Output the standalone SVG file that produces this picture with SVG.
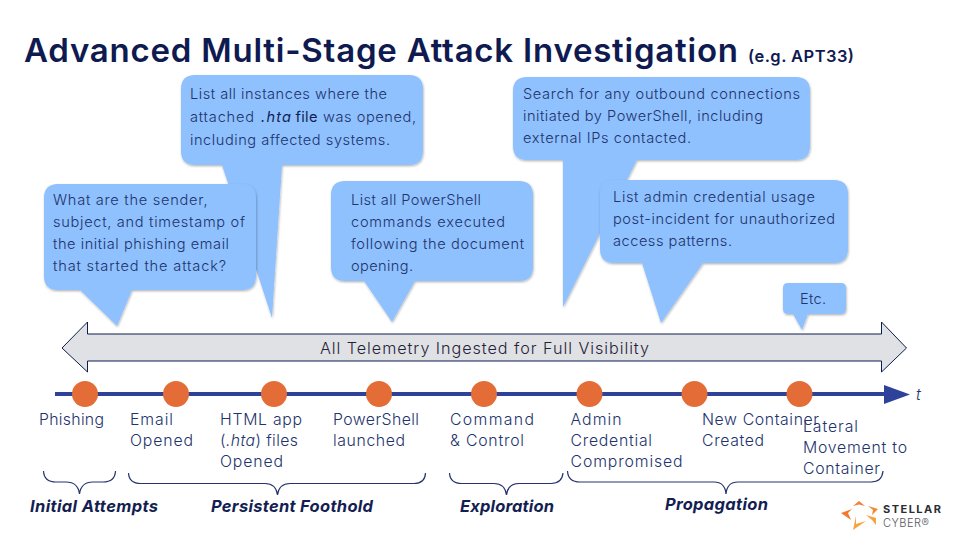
<svg xmlns="http://www.w3.org/2000/svg" width="960" height="540" viewBox="0 0 960 540">
<style>
text{font-family:"Inter","Lato",sans-serif;white-space:pre}
.b{fill:#8ec1fe;filter:url(#sh)}
.q{font-size:14.600px;font-weight:300;fill:#22336c}
.l{font-size:15.800px;font-weight:300;fill:#22336c}
.g{font-size:16.500px;font-weight:700;font-style:italic;fill:#141e52}
.br{fill:none;stroke:#26336e;stroke-width:1.2}
.c{fill:#e36c37}
.it{font-style:italic;font-weight:400;fill:#141e52}
</style>
<defs>
<filter id="sh" x="-10%" y="-10%" width="120%" height="125%"><feDropShadow dx="0.6" dy="1.2" stdDeviation="1.1" flood-color="#000" flood-opacity="0.3"/></filter>
</defs>
<rect width="960" height="540" fill="#fff"/>
<g id="title">
<text x="24" y="62" font-size="33" font-weight="600" fill="#0f1a50" textLength="714">Advanced Multi-Stage Attack Investigation</text>
<text x="748" y="62" font-size="16.500" font-weight="600" fill="#0f1a50" textLength="106">(e.g. APT33)</text>
</g>
<g id="bubble-hta">
<path class="b" d="M195,75H409Q423,75 423,89V151Q423,165 409,165H282L272,318L222,165H195Q181,165 181,151V89Q181,75 195,75Z"/>
<text class="q" x="190" y="99" textLength="197">List all instances where the</text>
<text class="q" x="190" y="122" textLength="64">attached</text>
<text class="q it" x="261" y="122" textLength="30">.hta</text>
<text class="q" x="295.500" y="122" textLength="22" style="font-weight:400;fill:#141e52">file</text>
<text class="q" x="323" y="122" textLength="93">was opened,</text>
<text class="q" x="190" y="145" textLength="200">including affected systems.</text>
</g>
<g id="bubble-phishing">
<path class="b" d="M58,184H242Q256,184 256,198V276Q256,290 242,290H132L117,326L80,290H58Q44,290 44,276V198Q44,184 58,184Z"/>
<text class="q" x="53" y="205" textLength="154.500">What are the sender,</text>
<text class="q" x="53" y="227" textLength="192">subject, and timestamp of</text>
<text class="q" x="53" y="249" textLength="176">the initial phishing email</text>
<text class="q" x="53" y="271" textLength="173">that started the attack?</text>
</g>
<g id="bubble-powershell">
<path class="b" d="M345,181H519Q533,181 533,195V267Q533,281 519,281H415L392,322L364,281H345Q331,281 331,267V195Q331,181 345,181Z"/>
<text class="q" x="351" y="205" textLength="130">List all PowerShell</text>
<text class="q" x="351" y="227" textLength="154">commands executed</text>
<text class="q" x="351" y="249" textLength="173">following the document</text>
<text class="q" x="351" y="271" textLength="62">opening.</text>
</g>
<g id="bubble-outbound">
<path class="b" d="M527,77H796Q810,77 810,91V146Q810,160 796,160H637L563,307V160H527Q513,160 513,146V91Q513,77 527,77Z"/>
<text class="q" x="523" y="99" textLength="277">Search for any outbound connections</text>
<text class="q" x="523" y="121" textLength="240">initiated by PowerShell, including</text>
<text class="q" x="523" y="143" textLength="168">external IPs contacted.</text>
</g>
<g id="bubble-admin">
<path class="b" d="M614,180H834Q848,180 848,194V249Q848,263 834,263H703L661,323L642,263H614Q600,263 600,249V194Q600,180 614,180Z"/>
<text class="q" x="613" y="202" textLength="202">List admin credential usage</text>
<text class="q" x="613" y="224" textLength="222">post-incident for unauthorized</text>
<text class="q" x="613" y="246" textLength="119">access patterns.</text>
</g>
<g id="bubble-etc">
<path class="b" d="M788,283H841Q846,283 846,288V309Q846,314 841,314H808L802,330L793,314H788Q783,314 783,309V288Q783,283 788,283Z"/>
<text class="q" x="800" y="304" textLength="26">Etc.</text>
</g>
<g id="telemetry">
<path d="M62,348L87.500,322V334H881.500V322L906.500,348L881.500,372V361H87.500V372Z" fill="#e0e1e5" stroke="#0c1c4e" stroke-width="1"/>
<text x="320" y="354" font-size="16.200" font-weight="300" fill="#1f2338" textLength="329">All Telemetry Ingested for Full Visibility</text>
</g>
<g id="connectors">
<path d="M55,394H886" stroke="#2f4299" stroke-width="4" fill="none"/>
<path d="M884,385L910,394.500L884,404Z" fill="#2f4299"/>
<path class="br" d="M43.500,471Q44,482 56,482H66Q78,482 79.500,494Q81,482 93,482H103Q115,482 115.500,471"/>
<path class="br" d="M128.500,473Q129,483.500 141,483.500H265Q276,483.500 277.500,495Q279,483.500 290,483.500H414Q425,483.500 425.500,473"/>
<path class="br" d="M449.500,473Q450,483.500 462,483.500H494Q505,483.500 506.500,495Q508,483.500 519,483.500H551Q562,483.500 563,473"/>
<path class="br" d="M567.500,471Q568,482 580,482H714Q725,482 726,494Q727,482 738,482H871Q882,482 883,471"/>
</g>
<g id="step-phishing"><circle class="c" cx="85" cy="394" r="13"/><text class="l" x="39" y="425" textLength="65">Phishing</text></g>
<g id="step-email"><circle class="c" cx="176" cy="394" r="13"/><text class="l" x="130" y="425" textLength="43">Email</text><text class="l" x="130" y="446" textLength="63">Opened</text></g>
<g id="step-html"><circle class="c" cx="274" cy="394" r="13"/><text class="l" x="220" y="425" textLength="82">HTML app</text><text class="l" x="220" y="446" textLength="78">(<tspan font-style="italic">.hta</tspan>) files</text><text class="l" x="220" y="467" textLength="63">Opened</text></g>
<g id="step-powershell"><circle class="c" cx="379" cy="394" r="13"/><text class="l" x="333" y="425" textLength="86">PowerShell</text><text class="l" x="333" y="446" textLength="72">launched</text></g>
<g id="step-c2"><circle class="c" cx="484" cy="394" r="13"/><text class="l" x="450" y="425" textLength="84">Command</text><text class="l" x="450" y="446" textLength="74">&amp; Control</text></g>
<g id="step-admin"><circle class="c" cx="589.500" cy="394" r="13"/><text class="l" x="570.500" y="425" textLength="51">Admin</text><text class="l" x="570.500" y="446" textLength="81.500">Credential</text><text class="l" x="570.500" y="467" textLength="112">Compromised</text></g>
<g id="step-container"><circle class="c" cx="694.500" cy="394" r="13"/><text class="l" x="702" y="425" textLength="117">New Container</text><text class="l" x="702" y="446" textLength="62">Created</text></g>
<g id="step-lateral"><circle class="c" cx="799.500" cy="394" r="13"/><text class="l" x="803" y="432" textLength="55">Lateral</text><text class="l" x="803" y="453" textLength="104">Movement to</text><text class="l" x="803" y="474" textLength="77">Container</text></g>
<text x="916" y="400" font-size="16" font-style="italic" font-weight="300" fill="#22336c">t</text>
<g id="phase-initial"><text class="g" x="30" y="512" textLength="128">Initial Attempts</text></g>
<g id="phase-foothold"><text class="g" x="211" y="512" textLength="162">Persistent Foothold</text></g>
<g id="phase-exploration"><text class="g" x="460" y="512" textLength="94">Exploration</text></g>
<g id="phase-propagation"><text class="g" x="665" y="510" textLength="103">Propagation</text></g>
<g id="logo">
<path fill="#f0823a" d="M853,506L859,501L865,506L859,504.500Z"/>
<path fill="#f0882f" d="M868,506L878,509L872,515L873,510Z"/>
<path fill="#f4792e" d="M841,513L852,509L848,513L851,520Z"/>
<path fill="#f4a340" d="M866,515L876,518L876,525L872,520Z"/>
<path fill="#f8a33c" d="M856,516L856,524L866,521L853,530Z"/>
<text x="883" y="513" font-size="11" font-weight="700" fill="#2a2d34" textLength="58">STELLAR</text>
<text x="883" y="527" font-size="11" font-weight="300" fill="#55585e" textLength="46">CYBER®</text>
</g>
</svg>
